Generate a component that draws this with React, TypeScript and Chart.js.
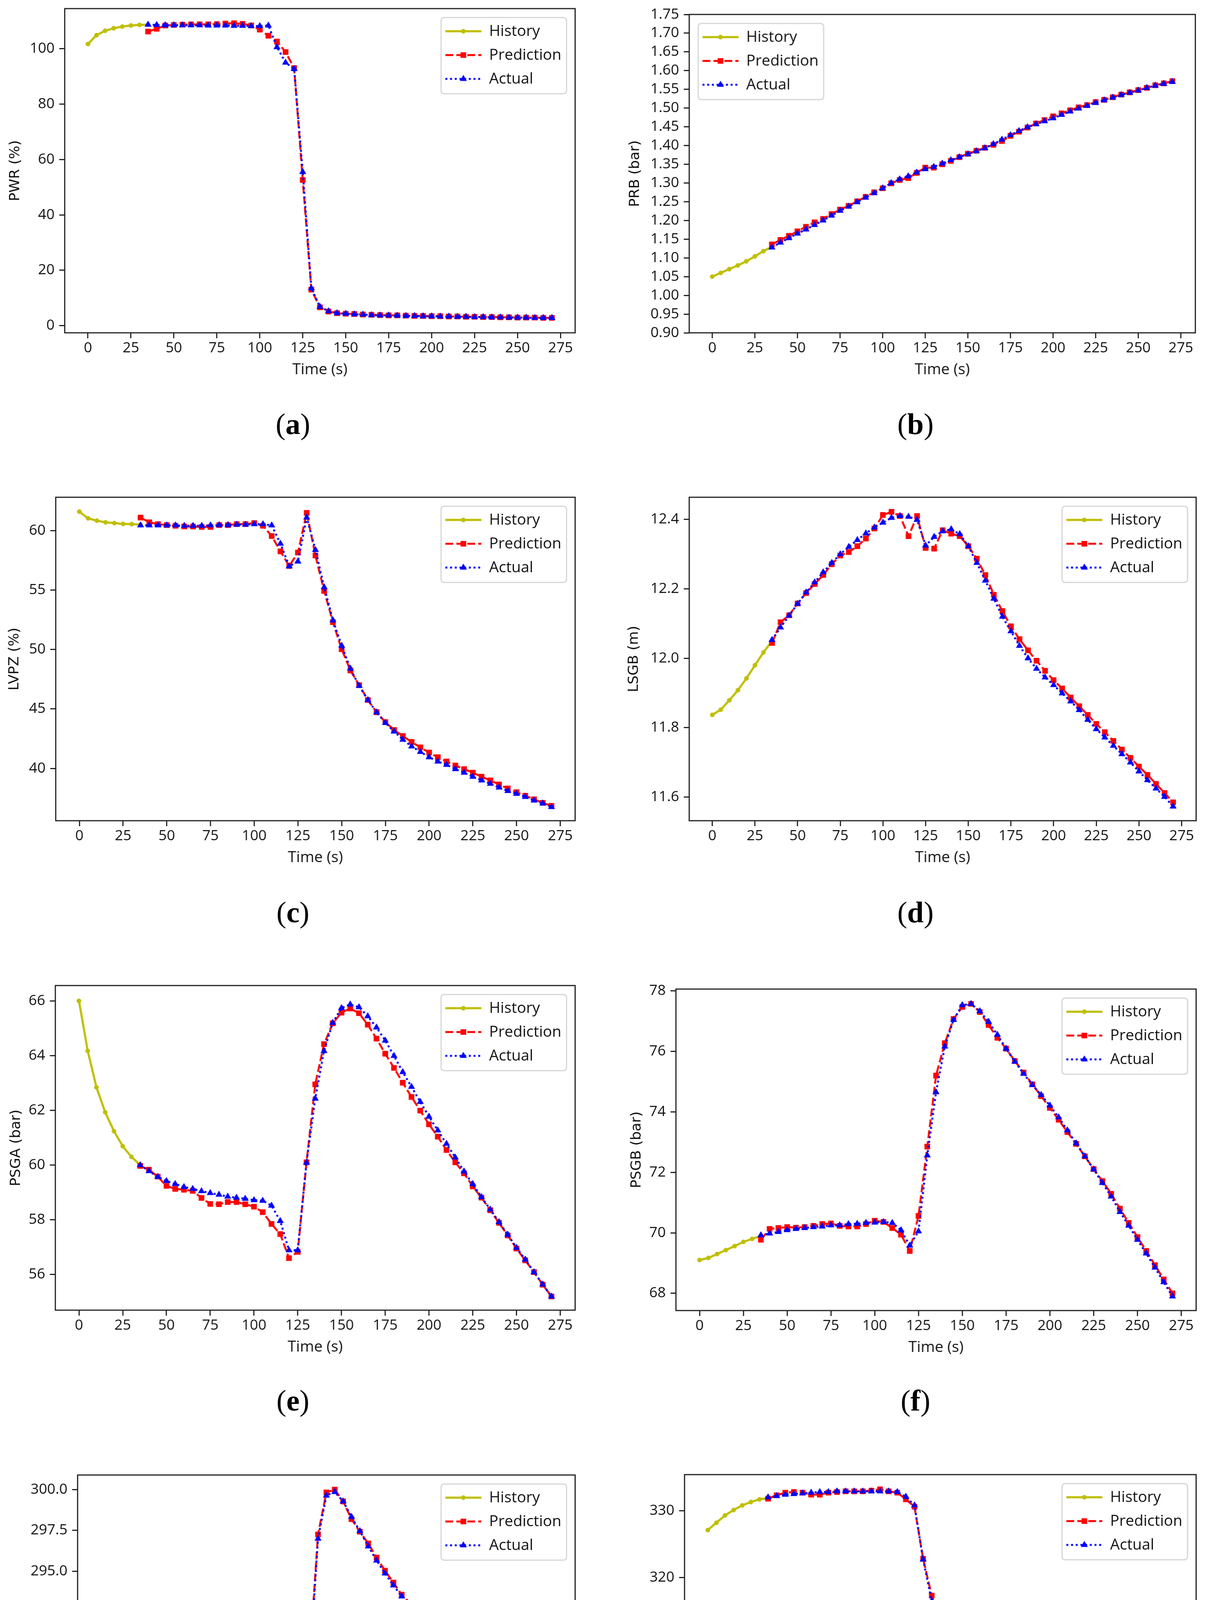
import React, { useEffect, useRef } from 'react';
import { Chart, registerables } from 'chart.js';

Chart.register(...registerables);

// time stamps (s)
const HIST_T = [0, 5, 10, 15, 20, 25, 30, 35];
const PRED_T = [
  35, 40, 45, 50, 55, 60, 65, 70, 75, 80, 85, 90, 95, 100, 105, 110, 115, 120,
  125, 130, 135, 140, 145, 150, 155, 160, 165, 170, 175, 180, 185, 190, 195, 200,
  205, 210, 215, 220, 225, 230, 235, 240, 245, 250, 255, 260, 265, 270,
];
const X_TICKS = [0, 25, 50, 75, 100, 125, 150, 175, 200, 225, 250, 275];

// (a) PWR
const PWR_HIST = [101.7, 104.9, 106.5, 107.4, 108.0, 108.4, 108.6, 108.7];
const PWR_PRED = [
  106.2, 107.2, 108.4, 108.6, 108.7, 108.8, 108.8, 108.8, 108.9, 109.1, 109.2, 109.0, 108.4, 106.9, 104.7, 102.6, 98.8, 93.0,
  52.6, 13.0, 6.6, 5.1, 4.5, 4.3, 4.2, 4.0, 3.9, 3.8, 3.7, 3.7, 3.6, 3.5, 3.5, 3.4, 3.4, 3.3, 3.3, 3.2, 3.2, 3.1, 3.1, 3.0,
  3.0, 2.9, 2.9, 2.9, 2.8, 2.8,
];
const PWR_ACT = [
  108.7, 108.6, 108.5, 108.5, 108.5, 108.5, 108.5, 108.4, 108.4, 108.4, 108.3, 108.3, 108.2, 108.2, 108.4, 100.6, 95.0, 92.7,
  55.5, 13.5, 6.8, 5.2, 4.5, 4.3, 4.1, 4.0, 3.8, 3.7, 3.7, 3.6, 3.5, 3.5, 3.4, 3.4, 3.3, 3.3, 3.2, 3.2, 3.1, 3.1, 3.0, 3.0,
  2.9, 2.9, 2.9, 2.8, 2.8, 2.8,
];
const PWR_TICKS = [0, 20, 40, 60, 80, 100];

// (b) PRB
const PRB_HIST = [1.05, 1.06, 1.07, 1.08, 1.091, 1.104, 1.118, 1.13];
const PRB_PRED = [
  1.136, 1.148, 1.159, 1.171, 1.183, 1.195, 1.204, 1.217, 1.229, 1.239, 1.251, 1.263, 1.275, 1.286, 1.299, 1.308, 1.313, 1.327,
  1.341, 1.341, 1.35, 1.359, 1.369, 1.378, 1.386, 1.394, 1.402, 1.412, 1.426, 1.437, 1.448, 1.459, 1.468, 1.478, 1.486, 1.494,
  1.502, 1.508, 1.516, 1.522, 1.529, 1.536, 1.542, 1.548, 1.554, 1.561, 1.566, 1.572,
];
const PRB_ACT = [
  1.128, 1.141, 1.153, 1.165, 1.176, 1.188, 1.2, 1.213, 1.226, 1.237, 1.249, 1.261, 1.273, 1.286, 1.3, 1.31, 1.318, 1.328,
  1.337, 1.343, 1.352, 1.361, 1.369, 1.377, 1.385, 1.393, 1.404, 1.416, 1.428, 1.439, 1.449, 1.457, 1.465, 1.473, 1.482, 1.491,
  1.499, 1.506, 1.514, 1.521, 1.528, 1.535, 1.541, 1.547, 1.554, 1.56, 1.565, 1.57,
];
const PRB_TICKS = [0.9, 0.95, 1.0, 1.05, 1.1, 1.15, 1.2, 1.25, 1.3, 1.35, 1.4, 1.45, 1.5, 1.55, 1.6, 1.65, 1.7, 1.75];

// (c) LVPZ
const LVPZ_HIST = [61.59, 61.03, 60.83, 60.69, 60.63, 60.56, 60.54, 60.5];
const LVPZ_PRED = [
  61.09, 60.7, 60.54, 60.46, 60.4, 60.34, 60.34, 60.3, 60.3, 60.46, 60.46, 60.54, 60.54, 60.63, 60.4, 59.54, 58.25, 57.02,
  58.15, 61.49, 57.9, 54.92, 52.3, 50.02, 48.23, 47.0, 45.75, 44.72, 43.89, 43.23, 42.72, 42.22, 41.77, 41.33, 40.94, 40.58,
  40.24, 39.94, 39.64, 39.3, 38.99, 38.65, 38.31, 38.0, 37.7, 37.4, 37.1, 36.85,
];
const LVPZ_ACT = [
  60.44, 60.44, 60.44, 60.44, 60.44, 60.4, 60.4, 60.4, 60.44, 60.46, 60.46, 60.5, 60.5, 60.54, 60.54, 60.44, 58.9, 57.0,
  57.4, 61.1, 58.37, 55.24, 52.46, 50.32, 48.39, 46.94, 45.75, 44.72, 43.83, 43.1, 42.42, 41.85, 41.39, 40.94, 40.58, 40.3,
  39.94, 39.64, 39.3, 38.99, 38.71, 38.39, 38.1, 37.86, 37.6, 37.3, 37.05, 36.75,
];
const LVPZ_TICKS = [40, 45, 50, 55, 60];

// (d) LSGB
const LSGB_HIST = [11.837, 11.852, 11.879, 11.908, 11.942, 11.98, 12.017, 12.05];
const LSGB_PRED = [
  12.044, 12.104, 12.124, 12.158, 12.188, 12.214, 12.24, 12.271, 12.296, 12.306, 12.323, 12.345, 12.374, 12.413, 12.422, 12.41, 12.352, 12.41,
  12.318, 12.316, 12.369, 12.359, 12.352, 12.323, 12.287, 12.24, 12.183, 12.136, 12.092, 12.055, 12.023, 11.993, 11.964, 11.937, 11.913, 11.887,
  11.862, 11.837, 11.811, 11.787, 11.762, 11.737, 11.713, 11.688, 11.664, 11.638, 11.612, 11.585,
];
const LSGB_ACT = [
  12.053, 12.089, 12.123, 12.157, 12.19, 12.219, 12.248, 12.275, 12.3, 12.321, 12.341, 12.36, 12.377, 12.391, 12.405, 12.41, 12.408, 12.399,
  12.325, 12.35, 12.366, 12.372, 12.358, 12.323, 12.275, 12.224, 12.172, 12.12, 12.078, 12.036, 12.0, 11.97, 11.945, 11.923, 11.899, 11.876,
  11.851, 11.823, 11.796, 11.772, 11.748, 11.724, 11.7, 11.674, 11.649, 11.625, 11.601, 11.573,
];
const LSGB_TICKS = [11.6, 11.8, 12.0, 12.2, 12.4];

// (e) PSGA
const PSGA_HIST = [66.0, 64.17, 62.84, 61.93, 61.24, 60.69, 60.3, 60.0];
const PSGA_PRED = [
  59.97, 59.83, 59.58, 59.24, 59.13, 59.1, 59.06, 58.8, 58.58, 58.57, 58.65, 58.65, 58.57, 58.48, 58.28, 57.85, 57.48, 56.6,
  56.83, 60.1, 62.95, 64.42, 65.18, 65.57, 65.72, 65.55, 65.13, 64.62, 64.07, 63.55, 63.01, 62.49, 61.99, 61.49, 61.04, 60.55,
  60.1, 59.7, 59.22, 58.81, 58.35, 57.89, 57.43, 56.95, 56.52, 56.09, 55.63, 55.2,
];
const PSGA_ACT = [
  60.0, 59.78, 59.57, 59.42, 59.31, 59.2, 59.13, 59.05, 58.98, 58.92, 58.85, 58.81, 58.77, 58.72, 58.7, 58.52, 57.96, 56.89,
  56.89, 60.09, 62.43, 64.17, 65.2, 65.74, 65.87, 65.77, 65.44, 65.03, 64.55, 63.99, 63.4, 62.86, 62.31, 61.77, 61.27, 60.78,
  60.28, 59.77, 59.31, 58.83, 58.38, 57.92, 57.46, 56.98, 56.55, 56.09, 55.64, 55.2,
];
const PSGA_TICKS = [56, 58, 60, 62, 64, 66];

// (f) PSGB
const PSGB_HIST = [69.1, 69.17, 69.3, 69.43, 69.56, 69.7, 69.8, 69.9];
const PSGB_PRED = [
  69.77, 70.13, 70.16, 70.19, 70.17, 70.19, 70.23, 70.29, 70.31, 70.23, 70.21, 70.21, 70.29, 70.4, 70.36, 70.16, 69.94, 69.4,
  70.56, 72.85, 75.2, 76.27, 77.07, 77.47, 77.57, 77.3, 76.87, 76.45, 76.09, 75.68, 75.3, 74.91, 74.52, 74.13, 73.74, 73.33,
  72.94, 72.53, 72.11, 71.71, 71.29, 70.8, 70.33, 69.86, 69.4, 68.93, 68.46, 68.0,
];
const PSGB_ACT = [
  69.92, 69.98, 70.03, 70.09, 70.13, 70.16, 70.19, 70.21, 70.25, 70.25, 70.29, 70.3, 70.33, 70.34, 70.36, 70.33, 70.09, 69.58,
  70.05, 72.56, 74.65, 76.16, 77.04, 77.53, 77.57, 77.33, 76.98, 76.55, 76.09, 75.66, 75.26, 74.89, 74.56, 74.21, 73.82, 73.39,
  72.96, 72.53, 72.1, 71.65, 71.2, 70.69, 70.24, 69.77, 69.32, 68.85, 68.37, 67.9,
];
const PSGB_TICKS = [68, 70, 72, 74, 76, 78];

// (g) TCA
const TCA_HIST = [290.87, 289.38, 287.97, 286.88, 286.04, 285.4, 284.9, 284.57];
const TCA_PRED = [
  284.25, 284.17, 283.88, 283.74, 283.55, 283.52, 283.45, 283.11, 282.9, 282.92, 282.96, 283.04, 283.01, 282.9, 282.71, 282.42, 282.24, 282.12,
  289.63, 297.25, 299.83, 300.0, 299.28, 298.19, 297.42, 296.7, 295.83, 295.03, 294.3, 293.55, 293.04, 292.43, 291.91, 291.33, 290.8, 290.33,
  289.88, 289.46, 289.06, 288.62, 288.22, 287.78, 287.39, 286.96, 286.52, 286.09, 285.65, 285.22,
];
const TCA_ACT = [
  284.49, 284.23, 283.99, 283.8, 283.65, 283.52, 283.41, 283.3, 283.26, 283.22, 283.14, 283.11, 283.09, 283.04, 283.01, 282.9, 282.53, 281.92,
  289.13, 296.99, 299.64, 299.86, 299.28, 298.33, 297.46, 296.52, 295.65, 294.86, 294.13, 293.45, 292.86, 292.32, 291.78, 291.26, 290.77, 290.29,
  289.86, 289.42, 289.01, 288.59, 288.19, 287.75, 287.35, 286.91, 286.48, 286.04, 285.61, 285.17,
];
const TCA_TICKS = [282.5, 285, 287.5, 290, 292.5, 295, 297.5, 300];

// (h) THA
const THA_HIST = [327.1, 328.2, 329.3, 330.1, 330.8, 331.3, 331.7, 331.9];
const THA_PRED = [
  331.8, 332.3, 332.7, 332.8, 332.7, 332.4, 332.4, 332.7, 332.8, 332.9, 332.9, 332.9, 333.0, 333.2, 332.9, 332.7, 331.7, 330.6,
  322.8, 317.3, 313.5, 310.8, 308.2, 306.0, 304.4, 303.0, 301.6, 300.5, 299.5, 298.7, 297.9, 297.3, 296.6, 296.1, 295.6, 295.0,
  294.5, 294.0, 293.5, 293.0, 292.5, 292.1, 291.5, 291.0, 290.5, 290.1, 289.6, 289.2,
];
const THA_ACT = [
  332.0, 332.2, 332.4, 332.5, 332.6, 332.7, 332.8, 332.8, 332.9, 332.9, 332.9, 332.9, 332.9, 332.9, 332.9, 332.8, 332.1, 330.8,
  322.7, 316.5, 312.9, 310.2, 308.0, 305.9, 304.2, 302.7, 301.5, 300.3, 299.3, 298.4, 297.7, 297.0, 296.5, 295.9, 295.3, 294.8,
  294.3, 293.8, 293.3, 292.8, 292.3, 291.9, 291.4, 290.9, 290.4, 290.0, 289.6, 289.0,
];
const THA_TICKS = [290, 300, 310, 320, 330];

const SERIES_NAMES = ['History', 'Prediction', 'Actual'];

interface PanelSpec {
  tag: string;
  yLabel: string;
  hist: number[];
  pred: number[];
  act: number[];
  yTicks: number[];
  yMin: number;
  yMax: number;
  decimals: number;
  box: [number, number, number, number]; // plot area: left, top, right, bottom
  titleX: number;
  legendLeft: boolean;
  captionX: number;
  captionY: number;
}

const PANELS: PanelSpec[] = [
  { tag: 'a', yLabel: 'PWR (%)', hist: PWR_HIST, pred: PWR_PRED, act: PWR_ACT, yTicks: PWR_TICKS, yMin: -2.6, yMax: 114.5, decimals: 0, box: [166, 22, 1472, 852], titleX: 40, legendLeft: false, captionX: 750, captionY: 1092 },
  { tag: 'b', yLabel: 'PRB (bar)', hist: PRB_HIST, pred: PRB_PRED, act: PRB_ACT, yTicks: PRB_TICKS, yMin: 0.9, yMax: 1.75, decimals: 2, box: [1765, 37, 3060, 852], titleX: 1627, legendLeft: true, captionX: 2344, captionY: 1092 },
  { tag: 'c', yLabel: 'LVPZ (%)', hist: LVPZ_HIST, pred: LVPZ_PRED, act: LVPZ_ACT, yTicks: LVPZ_TICKS, yMin: 35.6, yMax: 62.8, decimals: 0, box: [143, 1273, 1472, 2101], titleX: 38, legendLeft: false, captionX: 750, captionY: 2342 },
  { tag: 'd', yLabel: 'LSGB (m)', hist: LSGB_HIST, pred: LSGB_PRED, act: LSGB_ACT, yTicks: LSGB_TICKS, yMin: 11.532, yMax: 12.464, decimals: 1, box: [1765, 1273, 3062, 2101], titleX: 1624, legendLeft: false, captionX: 2344, captionY: 2342 },
  { tag: 'e', yLabel: 'PSGA (bar)', hist: PSGA_HIST, pred: PSGA_PRED, act: PSGA_ACT, yTicks: PSGA_TICKS, yMin: 54.7, yMax: 66.56, decimals: 0, box: [142, 2523, 1472, 3354], titleX: 42, legendLeft: false, captionX: 750, captionY: 3592 },
  { tag: 'f', yLabel: 'PSGB (bar)', hist: PSGB_HIST, pred: PSGB_PRED, act: PSGB_ACT, yTicks: PSGB_TICKS, yMin: 67.43, yMax: 78.06, decimals: 0, box: [1731, 2532, 3062, 3355], titleX: 1631, legendLeft: false, captionX: 2344, captionY: 3592 },
  { tag: 'g', yLabel: 'TCA (°C)', hist: TCA_HIST, pred: TCA_PRED, act: TCA_ACT, yTicks: TCA_TICKS, yMin: 281.05, yMax: 300.9, decimals: 1, box: [199, 3776, 1472, 4604], titleX: 37, legendLeft: false, captionX: 750, captionY: 4842 },
  { tag: 'h', yLabel: 'THA (°C)', hist: THA_HIST, pred: THA_PRED, act: THA_ACT, yTicks: THA_TICKS, yMin: 286.95, yMax: 335.4, decimals: 0, box: [1753, 3775, 3062, 4604], titleX: 1624, legendLeft: false, captionX: 2344, captionY: 4842 },
];

const C_HIST = '#bfbf00';
const C_PRED = '#ff0000';
const C_ACT = '#0000ff';
const AXIS_COLOR = '#222222';
const TEXT_COLOR = '#111111';
const TICK_FONT = { family: '"Open Sans", "DejaVu Sans", sans-serif', size: 37 };
const PAD_TOP = 60;
const PAD_RIGHT = 60;
const X_AXIS_H = 118;
const Y_TITLE_SIZE = 36;

function drawMarker(ctx: CanvasRenderingContext2D, style: string, x: number, y: number, r: number, color: string) {
  ctx.setLineDash([]);
  ctx.fillStyle = color;
  ctx.strokeStyle = color;
  ctx.lineWidth = 1;
  ctx.beginPath();
  if (style === 'circle') {
    ctx.arc(x, y, r, 0, Math.PI * 2);
  } else if (style === 'rect') {
    const s = r * Math.SQRT1_2;
    ctx.rect(x - s, y - s, 2 * s, 2 * s);
  } else {
    let a = 0;
    ctx.moveTo(x + Math.sin(a) * r, y - Math.cos(a) * r);
    a += (2 * Math.PI) / 3;
    ctx.lineTo(x + Math.sin(a) * r, y - Math.cos(a) * r);
    a += (2 * Math.PI) / 3;
    ctx.lineTo(x + Math.sin(a) * r, y - Math.cos(a) * r);
    ctx.closePath();
  }
  ctx.fill();
  ctx.stroke();
}

// axes frame and matplotlib-style legend inside the plot area
const framePlugin = {
  id: 'mplFrame',
  afterDraw(chart: any, _args: any, opts: any) {
    const { ctx, chartArea: ca } = chart;
    ctx.save();
    ctx.setLineDash([]);
    ctx.strokeStyle = AXIS_COLOR;
    ctx.lineWidth = 3;
    ctx.strokeRect(ca.left, ca.top, ca.right - ca.left, ca.bottom - ca.top);

    const W = 321;
    const H = 195;
    const L = opts.left ? ca.left + 23 : ca.right - 22 - W;
    const T = ca.top + 23;
    const rad = 9;
    ctx.beginPath();
    ctx.moveTo(L + rad, T);
    ctx.lineTo(L + W - rad, T);
    ctx.quadraticCurveTo(L + W, T, L + W, T + rad);
    ctx.lineTo(L + W, T + H - rad);
    ctx.quadraticCurveTo(L + W, T + H, L + W - rad, T + H);
    ctx.lineTo(L + rad, T + H);
    ctx.quadraticCurveTo(L, T + H, L, T + H - rad);
    ctx.lineTo(L, T + rad);
    ctx.quadraticCurveTo(L, T, L + rad, T);
    ctx.closePath();
    ctx.fillStyle = 'rgba(255,255,255,0.85)';
    ctx.fill();
    ctx.strokeStyle = '#d6d6d6';
    ctx.lineWidth = 3;
    ctx.stroke();

    chart.data.datasets.forEach((ds: any, i: number) => {
      const y = T + 35 + i * 61;
      ctx.save();
      ctx.beginPath();
      ctx.setLineDash(ds.borderDash || []);
      ctx.lineCap = 'butt';
      ctx.strokeStyle = ds.borderColor;
      ctx.lineWidth = ds.borderWidth;
      ctx.moveTo(L + 11, y);
      ctx.lineTo(L + 103, y);
      ctx.stroke();
      ctx.restore();
      drawMarker(ctx, ds.pointStyle, L + 57, y, ds.pointRadius, ds.borderColor);
      ctx.fillStyle = TEXT_COLOR;
      ctx.font = '39px "Open Sans", "DejaVu Sans", sans-serif';
      ctx.textBaseline = 'middle';
      ctx.textAlign = 'left';
      ctx.fillText(ds.label, L + 123, y + 1);
    });
    ctx.restore();
  },
};

const Panel: React.FC<{ spec: PanelSpec }> = ({ spec }) => {
  const canvasRef = useRef<HTMLCanvasElement | null>(null);
  const chartRef = useRef<Chart | null>(null);

  const [pl, pt, pr, pb] = spec.box;
  const canvasLeft = spec.titleX - (Y_TITLE_SIZE * 1.2) / 2;
  const canvasTop = pt - PAD_TOP;
  const width = pr + PAD_RIGHT - canvasLeft;
  const height = pb + X_AXIS_H - canvasTop;

  useEffect(() => {
    if (!canvasRef.current) return;
    const ctx = canvasRef.current.getContext('2d');
    if (!ctx) return;
    if (chartRef.current) chartRef.current.destroy();

    const toPts = (ts: number[], vs: number[]) => ts.map((t, i) => ({ x: t, y: vs[i] }));

    chartRef.current = new Chart(ctx, {
      type: 'line',
      data: {
        datasets: [
          {
            label: SERIES_NAMES[0],
            data: toPts(HIST_T, spec.hist),
            borderColor: C_HIST,
            backgroundColor: C_HIST,
            borderWidth: 5.5,
            pointStyle: 'circle',
            pointRadius: 5.5,
            pointBorderWidth: 1,
            order: 3,
          },
          {
            label: SERIES_NAMES[1],
            data: toPts(PRED_T, spec.pred),
            borderColor: C_PRED,
            backgroundColor: C_PRED,
            borderWidth: 5,
            borderDash: [20, 8],
            pointStyle: 'rect',
            pointRadius: 9.5,
            pointBorderWidth: 1,
            order: 2,
          },
          {
            label: SERIES_NAMES[2],
            data: toPts(PRED_T, spec.act),
            borderColor: C_ACT,
            backgroundColor: C_ACT,
            borderWidth: 5,
            borderDash: [5, 7],
            borderCapStyle: 'butt',
            pointStyle: 'triangle',
            pointRadius: 9.5,
            pointBorderWidth: 1,
            order: 1,
          },
        ] as any,
      },
      options: {
        animation: false,
        responsive: true,
        maintainAspectRatio: false,
        layout: { padding: { top: PAD_TOP, right: PAD_RIGHT, left: 0, bottom: 0 } },
        elements: { line: { tension: 0 } },
        plugins: {
          legend: { display: false },
          tooltip: { enabled: false },
          mplFrame: { left: spec.legendLeft },
        } as any,
        scales: {
          x: {
            type: 'linear',
            min: -13.5,
            max: 283.5,
            afterBuildTicks: (scale: any) => {
              scale.ticks = X_TICKS.map((v) => ({ value: v }));
            },
            afterFit: (scale: any) => {
              scale.height = X_AXIS_H;
            },
            ticks: {
              autoSkip: false,
              maxRotation: 0,
              padding: 3,
              color: TEXT_COLOR,
              font: TICK_FONT,
              callback: (v: any) => String(v),
            },
            grid: { drawOnChartArea: false, drawTicks: true, tickLength: 14, tickWidth: 3, tickColor: AXIS_COLOR },
            border: { display: false },
            title: {
              display: true,
              text: 'Time (s)',
              color: TEXT_COLOR,
              padding: 0,
              font: { family: '"Open Sans", "DejaVu Sans", sans-serif', size: 39, lineHeight: 1.2 },
            },
          },
          y: {
            type: 'linear',
            min: spec.yMin,
            max: spec.yMax,
            afterBuildTicks: (scale: any) => {
              scale.ticks = spec.yTicks.map((v) => ({ value: v }));
            },
            afterFit: (scale: any) => {
              scale.width = pl - canvasLeft;
            },
            ticks: {
              autoSkip: false,
              padding: 12,
              color: TEXT_COLOR,
              font: TICK_FONT,
              callback: (v: any) => Number(v).toFixed(spec.decimals),
            },
            grid: { drawOnChartArea: false, drawTicks: true, tickLength: 14, tickWidth: 3, tickColor: AXIS_COLOR },
            border: { display: false },
            title: {
              display: true,
              text: spec.yLabel,
              color: TEXT_COLOR,
              padding: 0,
              font: { family: '"DejaVu Sans", sans-serif', size: Y_TITLE_SIZE, lineHeight: 1.2 },
            },
          },
        },
      },
      plugins: [framePlugin],
    });

    return () => {
      if (chartRef.current) {
        chartRef.current.destroy();
        chartRef.current = null;
      }
    };
  }, [spec]);

  return (
    <>
      <div style={{ position: 'absolute', left: canvasLeft, top: canvasTop, width, height }}>
        <canvas ref={canvasRef}></canvas>
      </div>
      <div
        style={{
          position: 'absolute',
          left: spec.captionX - 200,
          top: spec.captionY - 57,
          width: 400,
          height: 100,
          lineHeight: '100px',
          textAlign: 'center',
          fontFamily: '"Liberation Serif", "DejaVu Serif", serif',
          fontSize: 76,
          color: '#000',
        }}
      >
        (<b>{spec.tag}</b>)
      </div>
    </>
  );
};

const App: React.FC = () => {
  return (
    <div
      style={{
        position: 'absolute',
        left: 0,
        top: 0,
        width: 3093,
        height: 4899,
        overflow: 'hidden',
        background: '#ffffff',
      }}
    >
      {PANELS.map((p) => (
        <Panel key={p.tag} spec={p} />
      ))}
    </div>
  );
};

export default App;
